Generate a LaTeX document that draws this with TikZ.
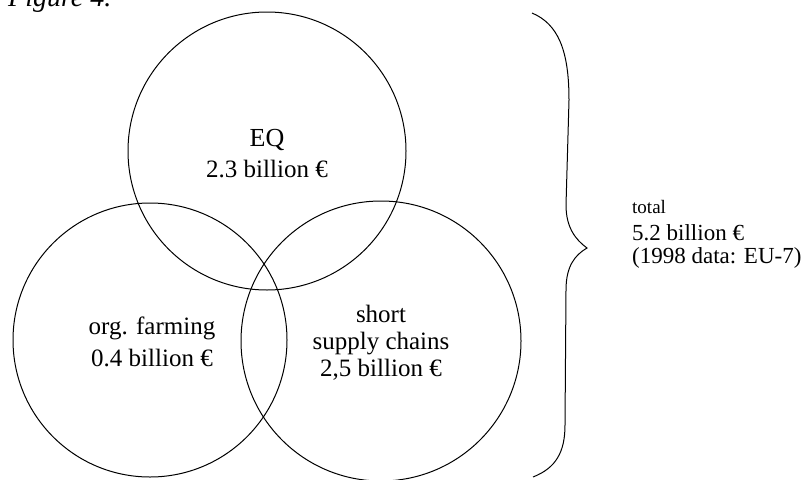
\documentclass[tikz,border=0pt]{standalone}
\usepackage{fontspec}
\setmainfont{Liberation Serif}
\begin{document}
\begin{tikzpicture}[x=1pt,y=-1pt,
  vc/.style={draw,circle,line width=1pt,inner sep=0pt},
  lbl/.style={anchor=base,inner sep=0pt,font=\fontsize{25}{28}\selectfont},
  tl/.style={anchor=base west,inner sep=0pt,font=\fontsize{23}{26}\selectfont}]
\useasboundingbox (0,0) rectangle (808,479);
% circles
\node[vc,minimum size=278pt] (eq) at (267,151) {};
\node[vc,minimum size=274pt] (org) at (150,340) {};
\node[vc,minimum size=280pt] (ssc) at (381,341) {};
% caption cut at the top
\node[anchor=base west,inner sep=0pt,font=\fontsize{28}{30}\selectfont\itshape] (fig) at (8,6) {Figure 4.};
% labels
\node[lbl,font=\fontsize{26}{28}\selectfont] (eqa) at (267,146) {EQ};
\node[lbl] (eqb) at (267,177) {2.3 billion €};
\node[lbl] (orga) at (152,334) {org. farming};
\node[lbl] (orgb) at (152,366) {0.4 billion €};
\node[lbl] (ssca) at (381,322) {short};
\node[lbl] (sscb) at (381,349) {supply chains};
\node[lbl] (sscc) at (381,376) {2,5 billion €};
% brace
\coordinate (bt) at (532,13);
\coordinate (tip) at (587,248);
\coordinate (bb) at (533,477);
\draw[line width=1pt] (bt) .. controls (558,24) and (569,50) .. (569,100)
  -- (566,205) .. controls (566,228) and (576,240) .. (tip)
  .. controls (575,255) and (566,266) .. (566,290)
  -- (565,425) .. controls (565,452) and (556,468) .. (bb);
% total
\node[tl,font=\fontsize{19}{22}\selectfont] (ta) at (632,213) {total};
\node[tl] (tb) at (632,240) {5.2 billion €};
\node[tl] (tc) at (632,263) {(1998 data: EU-7)};
\end{tikzpicture}
\end{document}
